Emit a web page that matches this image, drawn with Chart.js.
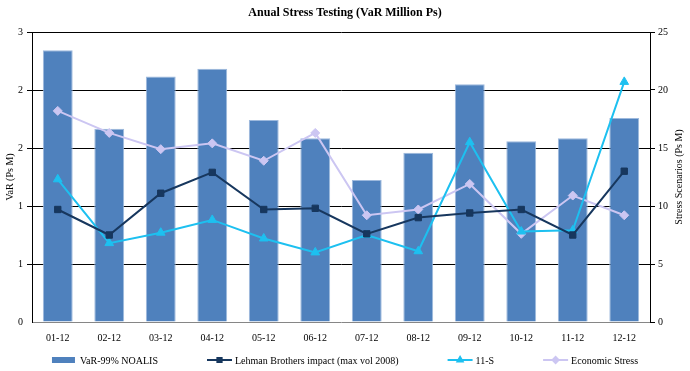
<!DOCTYPE html>
<html>
<head>
<meta charset="utf-8">
<script src="https://cdn.jsdelivr.net/npm/chart.js@4"></script>
<style>
  html, body { margin: 0; padding: 0; background: #fff; }
  #wrap { width: 690px; height: 371px; }
</style>
</head>
<body>
<div id="wrap"><canvas id="chart" width="690" height="371"></canvas></div>
<script>
// Data
const months = ["01-12","02-12","03-12","04-12","05-12","06-12","07-12","08-12","09-12","10-12","11-12","12-12"];
const varNoalis = [2.81, 2.00, 2.54, 2.62, 2.09, 1.90, 1.47, 1.75, 2.46, 1.87, 1.90, 2.11];
const lehman = [9.7, 7.5, 11.1, 12.9, 9.7, 9.8, 7.6, 9.0, 9.4, 9.7, 7.5, 13.0];
const elevenS = [12.3, 6.8, 7.7, 8.8, 7.2, 6.0, 7.5, 6.1, 15.5, 7.8, 7.9, 20.7];
const econStress = [18.2, 16.3, 14.9, 15.4, 13.9, 16.3, 9.2, 9.7, 11.9, 7.6, 10.9, 9.2];
const leftTicks = [0, 0.6, 1.2, 1.8, 2.4, 3];
const rightTicks = [0, 5, 10, 15, 20, 25];

const FONT = "'Liberation Serif', 'Times New Roman', serif";
const BAR_COLOR = "#4F81BD";
const LEHMAN_COLOR = "#17375E";
const S11_COLOR = "#1DC0F0";
const ECON_COLOR = "#CCC6F2";

// Title, axis titles and legend drawn by hand to match the Excel look
const decorPlugin = {
    id: "decor",
    afterDraw(chart){
        const ctx = chart.ctx;
        const area = chart.chartArea;
        ctx.save();
        ctx.fillStyle = "#000";
        ctx.font = "bold 12px " + FONT;
        ctx.textAlign = "center";
        ctx.textBaseline = "middle";
        ctx.fillText("Anual Stress Testing (VaR Million Ps)", 345, 13);

        ctx.font = "10px " + FONT;
        const midY = (area.top + area.bottom) / 2;
        [[10, "VaR (Ps M)"], [679, "Stress Scenarios (Ps M)"]].forEach(([x, txt]) => {
            ctx.save();
            ctx.translate(x, midY);
            ctx.rotate(-Math.PI / 2);
            ctx.fillText(txt, 0, 0);
            ctx.restore();
        });

        // legend
        const items = [
            { text: "VaR-99% NOALIS", type: "bar", color: BAR_COLOR },
            { text: "Lehman Brothers impact (max vol 2008)", type: "line", color: LEHMAN_COLOR, marker: "rect" },
            { text: "11-S", type: "line", color: S11_COLOR, marker: "triangle" },
            { text: "Economic Stress", type: "line", color: ECON_COLOR, marker: "rectRot" }
        ];
        const ly = 360, symW = 25, gap = 49;
        let total = 0;
        items.forEach((it, i) => {
            total += symW + 3 + ctx.measureText(it.text).width + (i < items.length - 1 ? gap : 0);
        });
        let x = 345 - total / 2;
        ctx.textAlign = "left";
        items.forEach(it => {
            if(it.type === "bar"){
                ctx.fillStyle = it.color;
                ctx.fillRect(x, ly - 3, symW - 2, 6);
            } else {
                ctx.strokeStyle = it.color;
                ctx.lineWidth = 2;
                ctx.beginPath();
                ctx.moveTo(x, ly);
                ctx.lineTo(x + symW, ly);
                ctx.stroke();
                ctx.fillStyle = it.color;
                Chart.helpers.drawPoint(ctx, { pointStyle: it.marker, radius: 3, borderWidth: 1 }, x + symW / 2, ly);
            }
            x += symW + 3;
            ctx.fillStyle = "#000";
            ctx.fillText(it.text, x, ly + 1);
            x += ctx.measureText(it.text).width + gap;
        });
        ctx.restore();
    }
};

const lineDataset = (label, data, color, style, radius) => ({
    type: "line",
    label,
    data,
    yAxisID: "y1",
    borderColor: color,
    backgroundColor: color,
    borderWidth: 2,
    pointStyle: style,
    pointRadius: radius,
    pointBorderWidth: 1,
    pointBackgroundColor: color,
    tension: 0
});

new Chart(document.getElementById("chart").getContext("2d"), {
    type: "bar",
    data: {
        labels: months,
        datasets: [
            lineDataset("Lehman Brothers impact (max vol 2008)", lehman, LEHMAN_COLOR, "rect", 4.5),
            lineDataset("11-S", elevenS, S11_COLOR, "triangle", 5),
            lineDataset("Economic Stress", econStress, ECON_COLOR, "rectRot", 4.5),
            {
                type: "bar",
                label: "VaR-99% NOALIS",
                data: varNoalis,
                yAxisID: "y",
                backgroundColor: BAR_COLOR,
                borderColor: "#9DB9DD",
                borderWidth: 1,
                borderSkipped: "bottom",
                barPercentage: 0.58,
                categoryPercentage: 1
            }
        ]
    },
    options: {
        responsive: false,
        animation: false,
        layout: { padding: { top: 32, bottom: 24, left: 0, right: 0 } },
        plugins: {
            legend: { display: false },
            title: { display: false },
            tooltip: { enabled: false }
        },
        scales: {
            x: {
                grid: { display: false, drawTicks: false },
                border: { color: "#868686", width: 1 },
                ticks: { color: "#000", font: { family: FONT, size: 10 }, padding: 10, maxRotation: 0 },
                afterFit(scale){ scale.height = 25; }
            },
            y: {
                position: "left",
                min: 0, max: 3,
                afterBuildTicks(scale){ scale.ticks = leftTicks.map(v => ({ value: v })); },
                grid: {
                    color: c => c.tick && c.tick.value === 0 ? "rgba(0,0,0,0)" : "#000",
                    lineWidth: 1,
                    drawTicks: true,
                    tickLength: 5
                },
                border: { color: "#000", width: 1 },
                ticks: {
                    color: "#000",
                    font: { family: FONT, size: 10 },
                    padding: 4,
                    callback: v => Math.round(v).toString()
                },
                afterFit(scale){ scale.width = 32; }
            },
            y1: {
                position: "right",
                min: 0, max: 25,
                afterBuildTicks(scale){ scale.ticks = rightTicks.map(v => ({ value: v })); },
                grid: { drawOnChartArea: false, color: "#000", drawTicks: true, tickLength: 5 },
                border: { color: "#000", width: 1 },
                ticks: { color: "#000", font: { family: FONT, size: 10 }, padding: 3 },
                afterFit(scale){ scale.width = 40; }
            }
        }
    },
    plugins: [decorPlugin]
});
</script>
</body>
</html>
